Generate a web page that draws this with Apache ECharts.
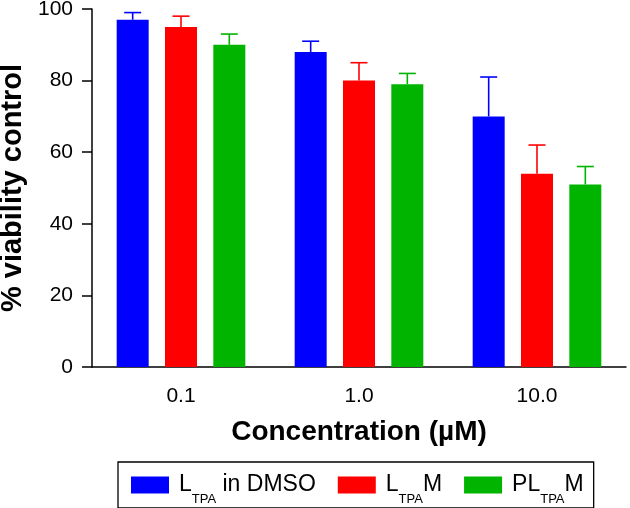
<!DOCTYPE html>
<html>
<head>
<meta charset="utf-8">
<script src="https://cdn.jsdelivr.net/npm/echarts@6/dist/echarts.min.js"></script>
<style>
html,body{margin:0;padding:0;background:#fff;}
#c{width:630px;height:508px;}
</style>
</head>
<body>
<div id="c"></div>
<script>
const categories = ['0.1', '1.0', '10.0'];
const seriesNames = ['LTPA in DMSO', 'LTPAM', 'PLTPAM'];
const dmsoMean = [97, 88, 70];
const dmsoUpper = [99, 91, 81];
const ltpamMean = [95, 80, 54];
const ltpamUpper = [98, 85, 62];
const pltpamMean = [90, 79, 51];
const pltpamUpper = [93, 82, 56];
const yTicks = [0, 20, 40, 60, 80, 100];

const colors = ['#0000ff', '#ff0000', '#00b400'];
const means = [dmsoMean, ltpamMean, pltpamMean];
const uppers = [dmsoUpper, ltpamUpper, pltpamUpper];
const FONT = "'Liberation Sans', Arial, sans-serif";
const BAR_W = 32;
const BAR_GAP = 0.51;

const legendFmt = {
  'LTPA in DMSO': '{f|L}{s|TPA}{m| in DMSO}',
  'LTPAM': '{f|L}{s|TPA}{m|M}',
  'PLTPAM': '{f|PL}{s|TPA}{m|M}'
};

const series = [];
means.forEach((vals, i) => {
  series.push({
    name: seriesNames[i],
    type: 'bar',
    data: vals,
    barWidth: BAR_W,
    barGap: (BAR_GAP * 100) + '%',
    itemStyle: { color: colors[i] },
    z: 2
  });
});
uppers.forEach((ups, i) => {
  series.push({
    name: seriesNames[i] + ' err',
    type: 'custom',
    z: 3,
    data: ups.map((u, k) => [k, means[i][k], u]),
    renderItem: function (params, api) {
      const off = (i - 1) * BAR_W * (1 + BAR_GAP);
      const p0 = api.coord([api.value(0), api.value(1)]);
      const p1 = api.coord([api.value(0), api.value(2)]);
      const x = p0[0] + off;
      const half = 8.5;
      const st = { stroke: colors[i], lineWidth: 1.6 };
      return {
        type: 'group',
        children: [
          { type: 'line', shape: { x1: x, y1: p0[1], x2: x, y2: p1[1] }, style: st },
          { type: 'line', shape: { x1: x - half, y1: p1[1], x2: x + half, y2: p1[1] }, style: st }
        ]
      };
    }
  });
});

const chart = echarts.init(document.getElementById('c'), null, { renderer: 'canvas' });
chart.setOption({
  animation: false,
  backgroundColor: '#fff',
  textStyle: { fontFamily: FONT },
  grid: { left: 92, right: 4, top: 9, bottom: 141, containLabel: false, outerBoundsMode: 'none' },
  legend: {
    data: seriesNames,
    left: 118,
    top: 462,
    orient: 'horizontal',
    itemWidth: 38,
    itemHeight: 17,
    itemGap: 22,
    padding: [11, 10, 2, 13],
    borderColor: '#000',
    borderWidth: 1.3,
    icon: 'rect',
    formatter: n => legendFmt[n],
    textStyle: {
      color: '#000',
      fontFamily: FONT,
      rich: {
        f: { fontSize: 23, padding: [9, 0, 0, 5], verticalAlign: 'top', color: '#000', fontFamily: FONT },
        m: { fontSize: 23, padding: [9, 0, 0, 0], verticalAlign: 'top', color: '#000', fontFamily: FONT },
        s: { fontSize: 13, padding: [29, 0, 0, 0], verticalAlign: 'top', color: '#000', fontFamily: FONT }
      }
    }
  },
  xAxis: {
    type: 'category',
    data: categories,
    name: 'Concentration (µM)',
    nameLocation: 'middle',
    nameGap: 51,
    nameTextStyle: { fontSize: 28, fontWeight: 'bold', color: '#000', fontFamily: FONT },
    axisLine: { lineStyle: { color: '#000', width: 1.5 } },
    axisTick: { alignWithLabel: true, length: 8, lineStyle: { color: '#000', width: 1.5 } },
    axisLabel: { fontSize: 21, color: '#000', margin: 19, fontFamily: FONT },
    splitLine: { show: false }
  },
  yAxis: {
    type: 'value',
    min: yTicks[0],
    max: yTicks[yTicks.length - 1],
    interval: yTicks[1] - yTicks[0],
    name: '% viability control',
    nameLocation: 'middle',
    nameGap: 61,
    nameTextStyle: { fontSize: 29, fontWeight: 'bold', color: '#000', fontFamily: FONT },
    axisLine: { show: true, lineStyle: { color: '#000', width: 1.5 } },
    axisTick: { show: true, length: 10, lineStyle: { color: '#000', width: 1.5 } },
    axisLabel: { fontSize: 21, color: '#000', margin: 19, fontFamily: FONT },
    splitLine: { show: false }
  },
  series: series
});
</script>
</body>
</html>
